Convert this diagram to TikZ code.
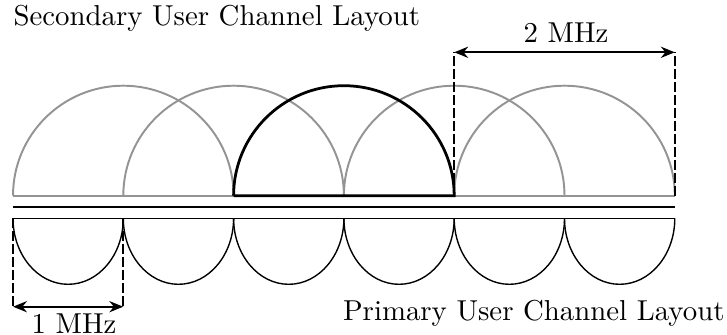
\documentclass[tikz,border=0pt]{standalone}
\usetikzlibrary{arrows.meta}
\begin{document}
\begin{tikzpicture}[x=0.361pt,y=-0.361pt,
  secarc/.style={draw=black!42,line width=0.7pt},
  selarc/.style={draw=black,line width=1pt},
  priarc/.style={draw=black,line width=0.5pt},
  guide/.style={draw=black,line width=0.6pt,dash pattern=on 3.4pt off 1.3pt},
  span/.style={draw=black,line width=0.8pt,{Stealth[length=5pt,width=4pt,inset=1.6pt]}-{Stealth[length=5pt,width=4pt,inset=1.6pt]}},
  lbl/.style={inner sep=0pt,font=\fontsize{10.4}{12}\selectfont}]
\useasboundingbox (0,0) rectangle (727,335);
% channel grid: 1 MHz = 110.3 units
\def\u{110.3}
\def\xo{13}
% secondary user channels (2 MHz wide, overlapping)
\foreach \i in {0,1,3,4}
  \draw[secarc] ({\xo+\i*\u},195.7) arc[start angle=180,end angle=360,x radius=\u,y radius=110];
\draw[secarc] (\xo,195.7) -- ({\xo+6*\u},195.7);
\draw[selarc] ({\xo+2*\u},195.7) -- ({\xo+4*\u},195.7)
  arc[start angle=360,end angle=180,x radius=\u,y radius=110];
% separating bar and primary user channels
\draw[black,line width=0.85pt] (\xo,206.7) -- ({\xo+6*\u},206.7);
\draw[priarc] (\xo,218.3) -- ({\xo+6*\u},218.3);
\foreach \i in {0,...,5}
  \draw[priarc] ({\xo+\i*\u},218.3) arc[start angle=180,end angle=0,x radius={\u/2},y radius=66];
% dimension markers
\coordinate (p1) at (\xo,218.3);
\coordinate (p2) at ({\xo+\u},218.3);
\coordinate (p1b) at (\xo,306.7);
\coordinate (p2b) at ({\xo+\u},306.7);
\coordinate (s1) at ({\xo+4*\u},195.7);
\coordinate (s2) at ({\xo+6*\u},195.7);
\coordinate (s1t) at ({\xo+4*\u},52.3);
\coordinate (s2t) at ({\xo+6*\u},52.3);
\draw[guide] (p1) -- (p1b);
\draw[guide] (p2) -- (p2b);
\draw[guide] (s1) -- (s1t);
\draw[guide] (s2) -- (s2t);
\draw[span] (p1b) -- (p2b);
\draw[span] (s1t) -- (s2t);
% labels
\node[lbl,anchor=base] (onemhz) at (74,333) {1 MHz};
\node[lbl,anchor=base] (twomhz) at (566,43) {2 MHz};
\node[lbl,anchor=base west] (sectitle) at (13,26) {Secondary User Channel Layout};
\node[lbl,anchor=base east] (prititle) at (725,320) {Primary User Channel Layout};
\end{tikzpicture}
\end{document}
